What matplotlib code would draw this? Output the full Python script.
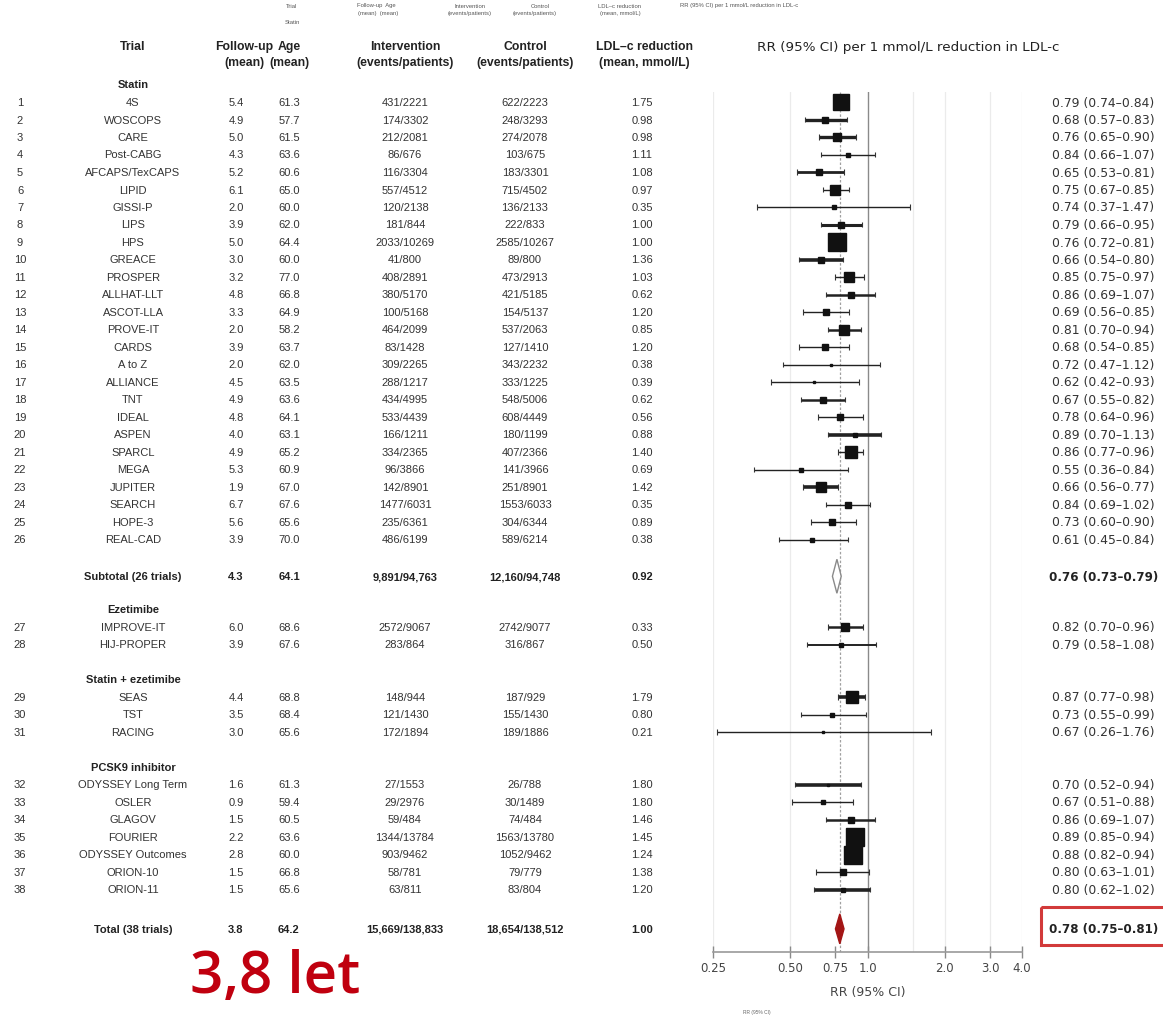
import matplotlib
matplotlib.use("Agg")
import matplotlib.pyplot as plt
from matplotlib.patches import Polygon, Rectangle
from matplotlib.ticker import NullLocator
import numpy as np

# ---------------- data ----------------
groups = ["Statin", "Ezetimibe", "Statin + ezetimibe", "PCSK9 inhibitor"]
group_sizes = [26, 2, 3, 7]

trials = ["4S", "WOSCOPS", "CARE", "Post-CABG", "AFCAPS/TexCAPS", "LIPID", "GISSI-P",
          "LIPS", "HPS", "GREACE", "PROSPER", "ALLHAT-LLT", "ASCOT-LLA", "PROVE-IT",
          "CARDS", "A to Z", "ALLIANCE", "TNT", "IDEAL", "ASPEN", "SPARCL", "MEGA",
          "JUPITER", "SEARCH", "HOPE-3", "REAL-CAD",
          "IMPROVE-IT", "HIJ-PROPER",
          "SEAS", "TST", "RACING",
          "ODYSSEY Long Term", "OSLER", "GLAGOV", "FOURIER", "ODYSSEY Outcomes",
          "ORION-10", "ORION-11"]
follow_up = [5.4, 4.9, 5.0, 4.3, 5.2, 6.1, 2.0, 3.9, 5.0, 3.0, 3.2, 4.8, 3.3, 2.0,
             3.9, 2.0, 4.5, 4.9, 4.8, 4.0, 4.9, 5.3, 1.9, 6.7, 5.6, 3.9,
             6.0, 3.9, 4.4, 3.5, 3.0, 1.6, 0.9, 1.5, 2.2, 2.8, 1.5, 1.5]
age = [61.3, 57.7, 61.5, 63.6, 60.6, 65.0, 60.0, 62.0, 64.4, 60.0, 77.0, 66.8, 64.9,
       58.2, 63.7, 62.0, 63.5, 63.6, 64.1, 63.1, 65.2, 60.9, 67.0, 67.6, 65.6, 70.0,
       68.6, 67.6, 68.8, 68.4, 65.6, 61.3, 59.4, 60.5, 63.6, 60.0, 66.8, 65.6]
intervention = ["431/2221", "174/3302", "212/2081", "86/676", "116/3304", "557/4512",
                "120/2138", "181/844", "2033/10269", "41/800", "408/2891", "380/5170",
                "100/5168", "464/2099", "83/1428", "309/2265", "288/1217", "434/4995",
                "533/4439", "166/1211", "334/2365", "96/3866", "142/8901", "1477/6031",
                "235/6361", "486/6199", "2572/9067", "283/864", "148/944", "121/1430",
                "172/1894", "27/1553", "29/2976", "59/484", "1344/13784", "903/9462",
                "58/781", "63/811"]
control = ["622/2223", "248/3293", "274/2078", "103/675", "183/3301", "715/4502",
           "136/2133", "222/833", "2585/10267", "89/800", "473/2913", "421/5185",
           "154/5137", "537/2063", "127/1410", "343/2232", "333/1225", "548/5006",
           "608/4449", "180/1199", "407/2366", "141/3966", "251/8901", "1553/6033",
           "304/6344", "589/6214", "2742/9077", "316/867", "187/929", "155/1430",
           "189/1886", "26/788", "30/1489", "74/484", "1563/13780", "1052/9462",
           "79/779", "83/804"]
ldl_reduction = [1.75, 0.98, 0.98, 1.11, 1.08, 0.97, 0.35, 1.00, 1.00, 1.36, 1.03, 0.62,
                 1.20, 0.85, 1.20, 0.38, 0.39, 0.62, 0.56, 0.88, 1.40, 0.69, 1.42, 0.35,
                 0.89, 0.38, 0.33, 0.50, 1.79, 0.80, 0.21, 1.80, 1.80, 1.46, 1.45, 1.24,
                 1.38, 1.20]
rr = [0.79, 0.68, 0.76, 0.84, 0.65, 0.75, 0.74, 0.79, 0.76, 0.66, 0.85, 0.86, 0.69,
      0.81, 0.68, 0.72, 0.62, 0.67, 0.78, 0.89, 0.86, 0.55, 0.66, 0.84, 0.73, 0.61,
      0.82, 0.79, 0.87, 0.73, 0.67, 0.70, 0.67, 0.86, 0.89, 0.88, 0.80, 0.80]
rr_low = [0.74, 0.57, 0.65, 0.66, 0.53, 0.67, 0.37, 0.66, 0.72, 0.54, 0.75, 0.69, 0.56,
          0.70, 0.54, 0.47, 0.42, 0.55, 0.64, 0.70, 0.77, 0.36, 0.56, 0.69, 0.60, 0.45,
          0.70, 0.58, 0.77, 0.55, 0.26, 0.52, 0.51, 0.69, 0.85, 0.82, 0.63, 0.62]
rr_high = [0.84, 0.83, 0.90, 1.07, 0.81, 0.85, 1.47, 0.95, 0.81, 0.80, 0.97, 1.07, 0.85,
           0.94, 0.85, 1.12, 0.93, 0.82, 0.96, 1.13, 0.96, 0.84, 0.77, 1.02, 0.90, 0.84,
           0.96, 1.08, 0.98, 0.99, 1.76, 0.94, 0.88, 1.07, 0.94, 0.94, 1.01, 1.02]
weight = [70, 12, 16, 6, 12, 30, 4, 12, 88, 12, 25, 9, 9, 25, 9, 2, 2, 9, 9, 6, 42, 4,
          30, 9, 12, 4, 20, 6, 40, 6, 2, 2, 6, 9, 90, 85, 9, 6]

summary_labels = ["Subtotal (26 trials)", "Total (38 trials)"]
summary_follow = [4.3, 3.8]
summary_age = [64.1, 64.2]
summary_intervention = ["9,891/94,763", "15,669/138,833"]
summary_control = ["12,160/94,748", "18,654/138,512"]
summary_ldl = [0.92, 1.00]
summary_rr = [0.76, 0.78]
summary_low = [0.73, 0.75]
summary_high = [0.79, 0.81]

col_headers = [("Trial", ""), ("Follow-up", "(mean)"), ("Age", "(mean)"),
               ("Intervention", "(events/patients)"), ("Control", "(events/patients)"),
               ("LDL\u2013c reduction", "(mean, mmol/L)")]
x_ticks = [0.25, 0.5, 0.75, 1.0, 2.0, 3.0, 4.0]
x_ticklabels = ["0.25", "0.50", "0.75", "1.0", "2.0", "3.0", "4.0"]

# ---------------- styles ----------------
ci_lw = [1, 2.4, 2.4, 1, 2, 1, 1, 2.2, 1, 2.6, 1, 1.8, 1, 1.8, 1, 1, 1, 1.8, 1, 2.6,
         1, 1, 2.6, 1, 1, 1, 1.8, 1.4, 2.6, 1, 1, 2.6, 1, 1.8, 1, 1, 1, 2.6]
FONT = ["Liberation Sans", "DejaVu Sans"]
WIDE = ["DejaVu Sans"]
TXT = "#333333"

# ---------------- layout ----------------
W, H = 1163, 1020
ROW0, STEP = 103.0, 17.5


def ypix(slot):
    return ROW0 + STEP * slot


header_slots, trial_slots, summary_slots = [], [], []
slot = -1
for gi, n in enumerate(group_sizes):
    header_slots.append(slot)
    slot += 1
    for _ in range(n):
        trial_slots.append(slot)
        slot += 1
    if gi == 0:
        summary_slots.append(slot + 1.1)
        slot += 3
    elif gi < len(group_sizes) - 1:
        slot += 1
summary_slots.append(slot + 1.25)

col_x = {"num": 20, "name": 133, "fu": 236, "age": 289, "int": 405, "ctl": 525,
         "ldl": 642, "rr": 1052}
hdr_x = {"name": 133, "fu": 244, "age": 289, "int": 405, "ctl": 525, "ldl": 644}

fig = plt.figure(figsize=(W / 100, H / 100), dpi=100)
fig.patch.set_facecolor("white")

# text layer in pixel coordinates
tx = fig.add_axes([0, 0, 1, 1])
tx.set_xlim(0, W)
tx.set_ylim(H, 0)
tx.axis("off")

# faint duplicated header strip along the top edge
tiny = dict(fontsize=4.2, color="#555555", family=FONT, ha="center", va="center")
tx.text(292, 6, "Trial", **tiny)
tx.text(292, 22, "Statin", **tiny)
tx.text(376, 6, "Follow-up  Age", **tiny)
tx.text(378, 13, "(mean)  (mean)", **tiny)
tx.text(470, 6, "Intervention", **tiny)
tx.text(470, 13, "(events/patients)", **tiny)
tx.text(540, 6, "Control", **tiny)
tx.text(535, 13, "(events/patients)", **tiny)
tx.text(620, 6, "LDL\u2013c reduction", **tiny)
tx.text(620, 13, "(mean, mmol/L)", **tiny)
tx.text(680, 6, "RR (95% CI) per 1 mmol/L reduction in LDL-c",
        **{**tiny, "ha": "left"})

# column headers
hdr = dict(fontsize=8.8, color="#222222", family=FONT, ha="center", va="center",
           fontweight="bold")
for key, (l1, l2) in zip(["name", "fu", "age", "int", "ctl", "ldl"], col_headers):
    tx.text(hdr_x[key], 47, l1, **hdr)
    if l2:
        tx.text(hdr_x[key], 63, l2, **hdr)
tx.text(908, 47, "RR (95% CI) per 1 mmol/L reduction in LDL-c", fontsize=9.7,
        color="#222222", family=WIDE, ha="center", va="center")

# group headings
for g, s in zip(groups, header_slots):
    tx.text(col_x["name"], ypix(s), g, fontsize=8, fontweight="bold", color="#222222",
            family=FONT, ha="center", va="center")

row = dict(fontsize=8, color=TXT, family=FONT, ha="center", va="center")
rr_txt = dict(fontsize=8.9, color=TXT, family=WIDE, ha="left", va="center")
for i, s in enumerate(trial_slots):
    y = ypix(s)
    tx.text(col_x["num"], y, str(i + 1), **row)
    tx.text(col_x["name"], y, trials[i], **row)
    tx.text(col_x["fu"], y, f"{follow_up[i]:.1f}", **row)
    tx.text(col_x["age"], y, f"{age[i]:.1f}", **row)
    tx.text(col_x["int"], y, intervention[i], **row)
    tx.text(col_x["ctl"], y, control[i], **row)
    tx.text(col_x["ldl"], y, f"{ldl_reduction[i]:.2f}", **row)
    tx.text(col_x["rr"], y, f"{rr[i]:.2f} ({rr_low[i]:.2f}\u2013{rr_high[i]:.2f})",
            **rr_txt)

rowb = {**row, "fontweight": "bold", "color": "#222222"}
for j, s in enumerate(summary_slots):
    y = ypix(s)
    tx.text(col_x["name"], y, summary_labels[j], **rowb)
    tx.text(col_x["fu"], y, f"{summary_follow[j]:.1f}", **rowb)
    tx.text(col_x["age"], y, f"{summary_age[j]:.1f}", **rowb)
    tx.text(col_x["int"], y, summary_intervention[j], **rowb)
    tx.text(col_x["ctl"], y, summary_control[j], **rowb)
    tx.text(col_x["ldl"], y, f"{summary_ldl[j]:.2f}", **rowb)
    tx.text(col_x["rr"] - 3, y,
            f"{summary_rr[j]:.2f} ({summary_low[j]:.2f}\u2013{summary_high[j]:.2f})",
            **{**rr_txt, "fontweight": "bold", "color": "#222222", "fontsize": 8.6})

# highlight box round the overall estimate
ytot = ypix(summary_slots[-1])
tx.add_patch(Rectangle((1041, ytot - 22), 140, 38, fill=False, edgecolor="#d23a3a",
                       lw=2.2, clip_on=False))

tx.text(190, 993, "3,8 let", fontsize=42, color="#c0000f", family=["Open Sans"],
        fontweight="semibold", ha="left", va="baseline")
tx.text(757, 1013, "RR (95% CI)", fontsize=3.5, color="#666666", family=FONT,
        ha="center", va="center")

# ---------------- forest plot ----------------
x0, x1 = 713, 1022
y_top, y_axis = 92.5, 953
fx = fig.add_axes([x0 / W, (H - y_axis) / H, (x1 - x0) / W, (y_axis - y_top) / H])
fx.patch.set_alpha(0)
fx.set_xscale("log")
fx.set_xlim(0.25, 4.0)
fx.set_ylim(y_axis, y_top)

for v in [0.25, 0.5, 1.5, 2.0, 3.0, 4.0]:
    fx.axvline(v, color="#ebebeb", lw=0.9, zorder=0)
fx.axvline(1.0, color="#8a8a8a", lw=1.0, zorder=1)
fx.axvline(summary_rr[-1], color="#a0a0a0", lw=0.9, ls=(0, (2, 1.5)), zorder=1)

for i, s in enumerate(trial_slots):
    y = ypix(s)
    fx.hlines(y, rr_low[i], rr_high[i], color="#222222", lw=ci_lw[i], zorder=2,
              clip_on=False)
    fx.vlines([rr_low[i], rr_high[i]], y - 2.8, y + 2.8, color="#333333", lw=0.8,
              zorder=2, clip_on=False)
    side_px = 2.0 * np.sqrt(weight[i])
    fx.plot(rr[i], y, marker="s", ms=side_px * 0.72, color="#111111", mec="#111111",
            zorder=3, clip_on=False)

diamond_half = [17, 15]
diamond_face = ["white", "#a31515"]
diamond_edge = ["#8a8a8a", "#a31515"]
for j, s in enumerate(summary_slots):
    y = ypix(s)
    h = diamond_half[j]
    fx.add_patch(Polygon([(summary_low[j], y), (summary_rr[j], y - h),
                          (summary_high[j], y), (summary_rr[j], y + h)],
                         closed=True, facecolor=diamond_face[j],
                         edgecolor=diamond_edge[j], lw=1.0, zorder=4, clip_on=False))

fx.xaxis.set_minor_locator(NullLocator())
fx.set_xticks(x_ticks)
fx.set_xticklabels(x_ticklabels)
fx.set_yticks([])
for sp in ["left", "right", "top"]:
    fx.spines[sp].set_visible(False)
fx.spines["bottom"].set_color("#9a9a9a")
fx.spines["bottom"].set_linewidth(1.2)
fx.tick_params(axis="x", direction="inout", length=9, width=1, color="#8a8a8a",
               labelsize=8.5, labelcolor="#444444", pad=2)
for lab in fx.get_xticklabels():
    lab.set_family(WIDE)
fx.set_xlabel("RR (95% CI)", fontsize=9, color="#444444", family=WIDE, labelpad=8)

fig.savefig("out.png", dpi=100, facecolor="white")
